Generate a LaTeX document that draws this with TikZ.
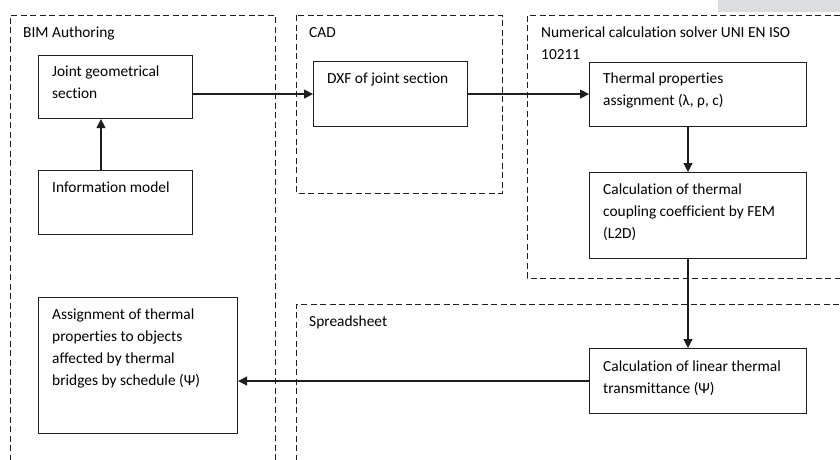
\documentclass[tikz,border=0pt]{standalone}
\usepackage{fontspec}
\setmainfont{Carlito}[Ligatures={NoCommon}]
\usetikzlibrary{arrows.meta}
\definecolor{ink}{HTML}{1E1E1E}
\definecolor{band}{HTML}{DCDDDF}
\tikzset{
  box/.style={draw=ink, line width=1.1pt, inner sep=0pt, anchor=north west},
  group/.style={draw=ink, line width=1pt, dash pattern=on 6pt off 3.5pt},
  txt/.style={anchor=base west, inner sep=0pt, text=black, font=\fontsize{15.4}{22}\selectfont},
  arr/.style={draw=ink, line width=1.2pt, -{Triangle[length=9pt,width=9pt]}},
}
\begin{document}
\begin{tikzpicture}[x=1pt,y=-1pt]
\useasboundingbox (0,0) rectangle (840,459);
\clip (0,0) rectangle (840,459);
\fill[band] (718,0) rectangle (840,12);
% groups
\draw[group] (10,470) -- (10,15) -- (275,15) -- (275,470);
\draw[group] (296,15) rectangle (502,193);
\draw[group] (850,278) -- (527,278) -- (527,15) -- (850,15);
\draw[group] (296,470) -- (296,304) -- (850,304);
\node[txt] (gbim) at (23,37) {BIM Authoring};
\node[txt] (gcad) at (309,37) {CAD};
\node[txt] (gnum) at (541,37) {\parbox[t]{300pt}{Numerical calculation solver UNI EN ISO\\10211}};
\node[txt] (gspr) at (309,326) {Spreadsheet};
% boxes
\node[box, minimum width=154pt, minimum height=63pt] (joint) at (38,55) {};
\node[box, minimum width=154pt, minimum height=64pt] (info) at (38,170) {};
\node[box, minimum width=154pt, minimum height=65pt] (dxf) at (313,61) {};
\node[box, minimum width=217pt, minimum height=64pt] (therm) at (589,62) {};
\node[box, minimum width=217pt, minimum height=86pt] (calc) at (589,172) {};
\node[box, minimum width=217pt, minimum height=65pt] (lin) at (589,348) {};
\node[box, minimum width=199pt, minimum height=136pt] (assign) at (38,297) {};
% texts
\node[txt] (tjoint) at (52,76) {\parbox[t]{150pt}{Joint geometrical\\section}};
\node[txt] (tinfo) at (52,192) {Information model};
\node[txt] (tdxf) at (327,83) {DXF of joint section};
\node[txt] (ttherm) at (603,83) {\parbox[t]{200pt}{Thermal properties\\assignment (λ, ρ, c)}};
\node[txt] (tcalc) at (603,194) {\parbox[t]{200pt}{Calculation of thermal\\coupling coefficient by FEM\\(L2D)}};
\node[txt] (tlin) at (603,371) {\parbox[t]{200pt}{Calculation of linear thermal\\transmittance (Ψ)}};
\node[txt] (tassign) at (52,319) {\parbox[t]{190pt}{Assignment of thermal\\properties to objects\\affected by thermal\\bridges by schedule (Ψ)}};
% connectors
\draw[arr] ([xshift=63pt]info.north west) -- ([xshift=63pt]joint.south west);
\draw[arr] (joint.east |- dxf.west) -- (dxf.west);
\draw[arr] (dxf.east) -- (dxf.east -| therm.west);
\draw[arr] ([xshift=99pt]therm.south west) -- ([xshift=99pt]calc.north west);
\draw[arr] ([xshift=99pt]calc.south west) -- ([xshift=99pt]lin.north west);
\draw[arr] (lin.west) -- (lin.west -| assign.east);
\end{tikzpicture}
\end{document}
